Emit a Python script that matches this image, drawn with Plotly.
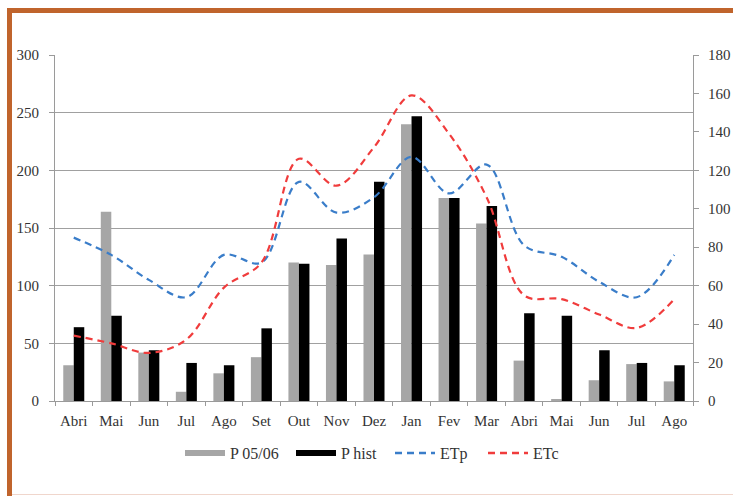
import plotly.graph_objects as go

months = ["Abri", "Mai", "Jun", "Jul", "Ago", "Set", "Out", "Nov", "Dez",
          "Jan", "Fev", "Mar", "Abri", "Mai", "Jun", "Jul", "Ago"]
p_0506 = [31, 164, 42, 8, 24, 38, 120, 118, 127, 240, 176, 154, 35, 1, 18, 32, 17]
p_hist = [64, 74, 44, 33, 31, 63, 119, 141, 190, 247, 176, 169, 76, 74, 44, 33, 31]
etp = [85, 76, 63, 54, 76, 72, 114, 98, 106, 127, 108, 123, 81, 75, 62, 54, 76]
etc = [34, 30, 25, 32, 59, 72, 126, 112, 132, 159, 139, 106, 55, 53, 45, 38, 53]

left_ticks = [0, 50, 100, 150, 200, 250, 300]
right_ticks = [0, 20, 40, 60, 80, 100, 120, 140, 160, 180]

W, H = 733, 496
ML, MR, MT, MB = 55, 40, 55, 95
PW, PH = W - ML - MR, H - MT - MB

def px(x):
    return (x - ML) / PW

def py(y):
    return (H - MB - y) / PH

xs = list(range(len(months)))
FONT = "Liberation Serif, Times New Roman, serif"
TXT = "#333333"
GRAY = "#a6a6a6"
BLUE = "#3a7dc9"
RED = "#f03c3c"

fig = go.Figure()
fig.add_trace(go.Bar(x=xs, y=p_0506, name="P 05/06", marker_color=GRAY,
                     marker_line_width=0, showlegend=False))
fig.add_trace(go.Bar(x=xs, y=p_hist, name="P hist", marker_color="#000000",
                     marker_line_width=0, showlegend=False))
fig.add_trace(go.Scatter(x=xs, y=etp, name="ETp", yaxis="y2", mode="lines",
                         line=dict(color=BLUE, width=2.2, dash="7px,5px",
                                   shape="spline", smoothing=1.0),
                         showlegend=False))
fig.add_trace(go.Scatter(x=xs, y=etc, name="ETc", yaxis="y2", mode="lines",
                         line=dict(color=RED, width=2.2, dash="7px,5px",
                                   shape="spline", smoothing=1.0),
                         showlegend=False))

# legend entries (bar entries drawn as thick swatches like the original)
fig.add_trace(go.Scatter(x=[None], y=[None], name="P 05/06", mode="lines",
                         line=dict(color=GRAY, width=6), legendwidth=56))
fig.add_trace(go.Scatter(x=[None], y=[None], name="P hist", mode="lines",
                         line=dict(color="#000000", width=6), legendwidth=44))
fig.add_trace(go.Scatter(x=[None], y=[None], name="ETp", mode="lines",
                         line=dict(color=BLUE, width=2.5, dash="7px,5px"),
                         legendwidth=38))
fig.add_trace(go.Scatter(x=[None], y=[None], name="ETc", mode="lines",
                         line=dict(color=RED, width=2.5, dash="7px,5px"),
                         legendwidth=38))

fig.update_layout(
    width=W, height=H,
    margin=dict(l=ML, r=MR, t=MT, b=MB, autoexpand=False),
    paper_bgcolor="white", plot_bgcolor="white",
    barmode="group", bargap=0.44, bargroupgap=0,
    font=dict(family=FONT, size=14, color=TXT),
    xaxis=dict(range=[-0.5, len(months) - 0.5], tickvals=xs, ticktext=months,
               ticks="", showgrid=False, zeroline=False, automargin=False,
               showline=True, linecolor="#9a9a9a", linewidth=1,
               tickfont=dict(family=FONT, size=15), ticklabelstandoff=6,
               minor=dict(tick0=-0.5, dtick=1, ticks="outside", ticklen=4,
                          tickcolor="#9a9a9a", showgrid=False)),
    yaxis=dict(range=[0, 300], tickvals=left_ticks, ticks="outside", ticklen=5,
               tickcolor="#9a9a9a", showgrid=True, gridcolor="#a0a0a0",
               gridwidth=1, zeroline=False, showline=True, linecolor="#9a9a9a",
               automargin=False,
               tickfont=dict(family=FONT, size=15), ticklabelstandoff=7),
    yaxis2=dict(range=[0, 180], tickvals=right_ticks, overlaying="y",
                side="right", ticks="outside", ticklen=5, tickcolor="#9a9a9a",
                showgrid=False, zeroline=False, showline=True,
                automargin=False,
                linecolor="#9a9a9a", tickfont=dict(family=FONT, size=15),
                ticklabelstandoff=6),
    legend=dict(orientation="h", x=px(180), xanchor="left", y=py(453),
                yanchor="middle", font=dict(family=FONT, size=16),
                bgcolor="rgba(0,0,0,0)", itemwidth=40),
    shapes=[
        dict(type="line", xref="paper", yref="paper", x0=px(7), x1=px(733),
             y0=py(10.5), y1=py(10.5), line=dict(color="#c0642c", width=5)),
        dict(type="line", xref="paper", yref="paper", x0=px(9.5), x1=px(9.5),
             y0=py(8), y1=py(496), line=dict(color="#c0642c", width=5)),
        dict(type="line", xref="paper", yref="paper", x0=px(12), x1=px(733),
             y0=py(494.5), y1=py(494.5), line=dict(color="#f0d6cc", width=1)),
    ],
)

fig.write_html("out.html")
